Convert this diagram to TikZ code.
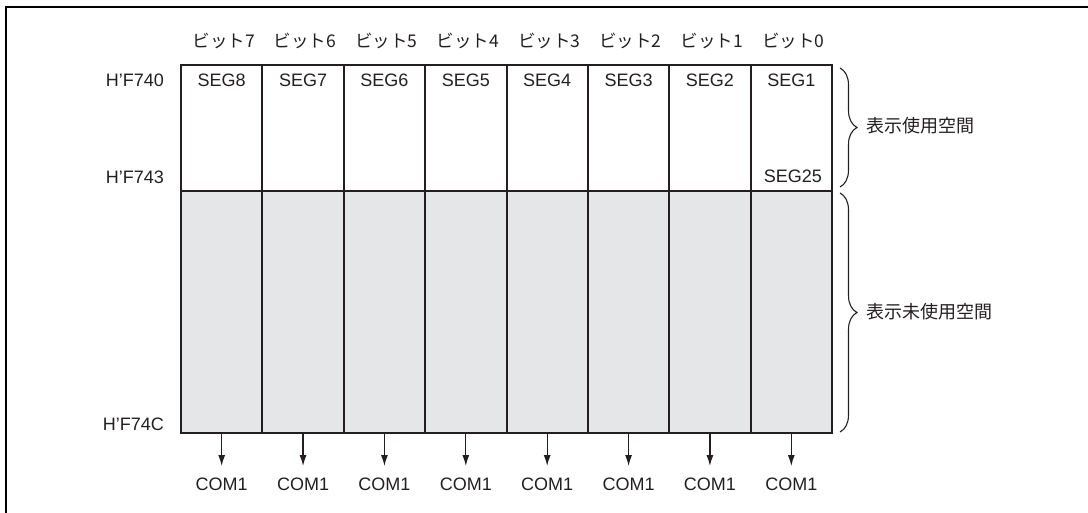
\documentclass[tikz,border=0pt]{standalone}
\usepackage{fontspec}
\setmainfont{Liberation Sans}
\newfontfamily\jp{Noto Sans CJK JP}
\usetikzlibrary{arrows.meta,decorations.pathreplacing}
\definecolor{shade}{HTML}{E5E6E8}
\definecolor{ink}{HTML}{231F20}
\begin{document}
\begin{tikzpicture}[x=1pt,y=-1pt,
  cell/.style={draw=ink,line width=2pt,minimum width=81.375pt,inner sep=0pt,outer sep=0pt},
  txt/.style={font=\fontsize{18}{21}\selectfont,text=ink,inner sep=0pt},
  jtxt/.style={font=\jp\fontsize{17.5}{21}\selectfont,text=ink,inner sep=0pt},
  arr/.style={draw=ink,line width=1.2pt,-{Latex[length=11pt,width=7pt]}},
  bracestyle/.style={draw=ink,line width=1.1pt,decorate,decoration={brace,amplitude=17pt}}]
\useasboundingbox (0,0) rectangle (1088,513);
\draw[line width=2.6pt] (6,513) -- (6,7) -- (1088,7);
\foreach \k in {1,...,8}{
  \pgfmathsetmacro\cx{181+(\k-0.5)*81.375}
  \pgfmathtruncatemacro\bit{8-\k}
  \pgfmathtruncatemacro\seg{9-\k}
  \node[cell,minimum height=126pt] (u\k) at (\cx,128) {};
  \node[cell,fill=shade,minimum height=242pt] (l\k) at (\cx,312) {};
  \node[txt] (s\k) at (\cx,80) {SEG\seg};
  \node[jtxt] (b\k) at (\cx+2,41) {ビット\bit};
  \coordinate (e\k) at (\cx,466);
  \draw[arr] (l\k.south) -- (e\k);
  \node[txt] (c\k) at (\cx,484) {COM1};
}
\draw[draw=ink,line width=2.6pt] (u1.north west) rectangle (l8.south east);
\node[txt,anchor=east] (s25) at (822,176) {SEG25};
\node[txt,anchor=east] (a0) at (164,80) {H'F740};
\node[txt,anchor=east] (a3) at (164,177) {H'F743};
\node[txt,anchor=east] (ac) at (164,424) {H'F74C};
\draw[bracestyle] (840,68) -- (840,187);
\draw[bracestyle] (840,193) -- (840,432);
\node[jtxt,font=\jp\fontsize{18}{21}\selectfont,anchor=west] (t1) at (866,126) {表示使用空間};
\node[jtxt,font=\jp\fontsize{18}{21}\selectfont,anchor=west] (t2) at (866,312) {表示未使用空間};
\end{tikzpicture}
\end{document}
